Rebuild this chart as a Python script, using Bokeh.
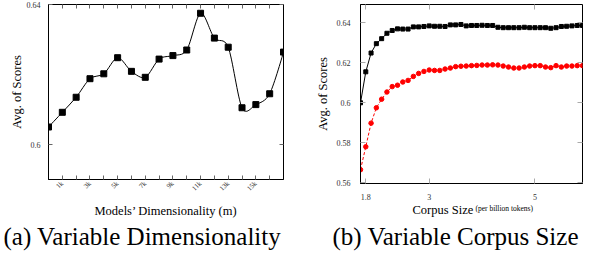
import numpy as np
from bokeh.plotting import figure
from bokeh.models import FixedTicker, LinearAxis, Range1d, Title
from bokeh.layouts import row
from bokeh.embed import file_html
from bokeh.resources import INLINE

# ---------------- data: (a) Variable Dimensionality ----------------
dim_k = [0, 1, 2, 3, 4, 5, 6, 7, 8, 9, 10, 11, 12, 13, 14, 15, 16, 17]
dim_scores = [0.6050, 0.6092, 0.6135, 0.6188, 0.6202, 0.6248, 0.6209, 0.6192,
              0.6244, 0.6254, 0.6270, 0.6375, 0.6304, 0.6278, 0.6105, 0.6114,
              0.6145, 0.6264]
dim_ticks = [1, 3, 5, 7, 9, 11, 13, 15]
dim_tick_labels = ["1k", "3k", "5k", "7k", "9k", "11k", "13k", "15k"]
dim_minor_ticks = [2, 4, 6, 8, 10, 12, 14, 16]
score_ticks_a = [0.6, 0.64]

# ---------------- data: (b) Variable Corpus Size ----------------
corpus_size = [1.7, 1.8, 1.9, 2.0, 2.1, 2.2, 2.3, 2.4, 2.5, 2.6, 2.7, 2.8, 2.9,
               3.0, 3.1, 3.2, 3.3, 3.4, 3.5, 3.6, 3.7, 3.8, 3.9, 4.0, 4.1, 4.2,
               4.3, 4.4, 4.5, 4.6, 4.7, 4.8, 4.9, 5.0, 5.1, 5.2, 5.3, 5.4, 5.5,
               5.6, 5.7, 5.8, 5.9]
black_scores = [0.6000, 0.6155, 0.6249, 0.6296, 0.6321, 0.6348, 0.6362, 0.6370,
                0.6369, 0.6369, 0.6380, 0.6380, 0.6382, 0.6385, 0.6383, 0.6383,
                0.6382, 0.6390, 0.6390, 0.6392, 0.6385, 0.6387, 0.6387, 0.6388,
                0.6387, 0.6387, 0.6378, 0.6376, 0.6376, 0.6376, 0.6376, 0.6378,
                0.6376, 0.6376, 0.6376, 0.6376, 0.6373, 0.6376, 0.6382, 0.6383,
                0.6385, 0.6387, 0.6387]
red_scores = [0.5665, 0.5780, 0.5898, 0.5975, 0.6018, 0.6054, 0.6081, 0.6088,
              0.6104, 0.6112, 0.6132, 0.6147, 0.6157, 0.6164, 0.6162, 0.6162,
              0.6169, 0.6174, 0.6181, 0.6183, 0.6184, 0.6186, 0.6187, 0.6189,
              0.6189, 0.6190, 0.6189, 0.6184, 0.6179, 0.6174, 0.6174, 0.6179,
              0.6184, 0.6186, 0.6186, 0.6179, 0.6176, 0.6186, 0.6179, 0.6184,
              0.6184, 0.6186, 0.6186]
corpus_ticks = [1.8, 3, 5]
score_ticks_b = [0.56, 0.58, 0.6, 0.62, 0.64]

SERIF = "Liberation Serif"
TICK_COLOR_A = "#666666"
TICK_COLOR_B = "#aaaaaa"
LABEL_COLOR = "#333333"


def style_axis(ax, tick_color, tick_len=4, font_size="8px", standoff=6):
    ax.major_tick_in = tick_len
    ax.major_tick_out = 0
    ax.minor_tick_in = tick_len
    ax.minor_tick_out = 0
    ax.major_tick_line_color = tick_color
    ax.minor_tick_line_color = tick_color
    ax.axis_line_color = "black"
    ax.major_label_text_font = SERIF
    ax.major_label_text_font_size = font_size
    ax.major_label_text_color = LABEL_COLOR
    ax.major_label_standoff = standoff
    ax.axis_label_text_font = SERIF
    ax.axis_label_text_font_style = "normal"
    ax.axis_label_text_font_size = "12.5px"
    ax.axis_label_text_color = "black"


def mirror_axis(p, ticker, side, tick_color, tick_len=4):
    ax = LinearAxis(ticker=ticker)
    style_axis(ax, tick_color, tick_len)
    ax.major_label_text_color = None
    ax.major_label_text_font_size = "1px"
    ax.major_label_standoff = 0
    ax.axis_line_color = None
    p.add_layout(ax, side)


def smooth_segments(xs, ys, k=0.1526):
    xs = np.asarray(xs, float)
    ys = np.asarray(ys, float)
    n = len(xs)
    tx = np.zeros(n)
    ty = np.zeros(n)
    tx[1:-1] = (xs[2:] - xs[:-2]) * k
    ty[1:-1] = (ys[2:] - ys[:-2]) * k
    return dict(x0=xs[:-1], y0=ys[:-1], x1=xs[1:], y1=ys[1:],
                cx0=xs[:-1] + tx[:-1], cy0=ys[:-1] + ty[:-1],
                cx1=xs[1:] - tx[1:], cy1=ys[1:] - ty[1:])


def below_title(p, text, offset, size, standoff):
    p.add_layout(Title(text=text, align="left", offset=offset,
                       vertical_align="top", standoff=standoff,
                       text_font=SERIF, text_font_style="normal",
                       text_font_size=size, text_color="black"), "below")


# ======================= figure (a) =======================
pa = figure(frame_width=235, frame_height=175,
            x_range=Range1d(dim_k[0], dim_k[-1]),
            y_range=Range1d(0.59, 0.64), output_backend="svg",
            toolbar_location=None, min_border_left=48, min_border_right=12,
            min_border_top=4, min_border_bottom=71)
pa.grid.visible = False
pa.outline_line_color = "black"

tick_a = FixedTicker(ticks=dim_ticks, minor_ticks=dim_minor_ticks)
pa.xaxis.ticker = tick_a
pa.xaxis.major_label_overrides = {t: l for t, l in zip(dim_ticks, dim_tick_labels)}
pa.xaxis.major_label_orientation = np.pi / 4
style_axis(pa.xaxis[0], TICK_COLOR_A, font_size="7px", standoff=3)
pa.xaxis.axis_label = "Models\u2019 Dimensionality (m)"
pa.xaxis.axis_label_standoff = 5
ytick_a = FixedTicker(ticks=score_ticks_a, minor_ticks=[])
pa.yaxis.ticker = ytick_a
style_axis(pa.yaxis[0], TICK_COLOR_A, standoff=8)
pa.yaxis.axis_label = "Avg. of Scores"
pa.yaxis.axis_label_standoff = 0
mirror_axis(pa, tick_a, "above", TICK_COLOR_A)
mirror_axis(pa, ytick_a, "right", TICK_COLOR_A)

seg = smooth_segments(dim_k, dim_scores)
pa.bezier(source=seg, x0="x0", y0="y0", x1="x1", y1="y1", cx0="cx0",
          cy0="cy0", cx1="cx1", cy1="cy1", line_color="black", line_width=1)
pa.scatter(dim_k, dim_scores, marker="square", size=6, color="black")

below_title(pa, "(a) Variable Dimensionality", -45, "25px", 4)

# ======================= figure (b) =======================
pb = figure(frame_width=222, frame_height=179,
            x_range=Range1d(corpus_size[0], corpus_size[-1]),
            y_range=Range1d(0.5596, 0.6492), output_backend="svg",
            toolbar_location=None, min_border_left=65, min_border_right=2,
            min_border_top=4, min_border_bottom=67)
pb.grid.visible = False
pb.outline_line_color = "black"

tick_b = FixedTicker(ticks=corpus_ticks, minor_ticks=[])
pb.xaxis.ticker = tick_b
style_axis(pb.xaxis[0], TICK_COLOR_B, tick_len=5, standoff=10)
ytick_b = FixedTicker(ticks=score_ticks_b, minor_ticks=[])
pb.yaxis.ticker = ytick_b
style_axis(pb.yaxis[0], TICK_COLOR_B, tick_len=5, standoff=10)
pb.yaxis.axis_label = "Avg. of Scores"
pb.yaxis.axis_label_standoff = 4
mirror_axis(pb, tick_b, "above", TICK_COLOR_B, tick_len=5)
mirror_axis(pb, ytick_b, "right", TICK_COLOR_B, tick_len=5)

pb.line(corpus_size, black_scores, line_color="black", line_width=1)
pb.scatter(corpus_size, black_scores, marker="square", size=4, color="black")
pb.line(corpus_size, red_scores, line_color="#ff0000", line_width=1,
        line_dash="3 2")
pb.scatter(corpus_size, red_scores, marker="circle", size=4.5, color="#ff0000")

below_title(pb, "Corpus Size", 52, "12.5px", 0)
below_title(pb, "(b) Variable Corpus Size", -28, "25px", 8)
below_title(pb, "(per billion tokens)", 115, "7.5px", -104)

layout = row(pa, pb)
open("out.html", "w").write(file_html(layout, INLINE))
